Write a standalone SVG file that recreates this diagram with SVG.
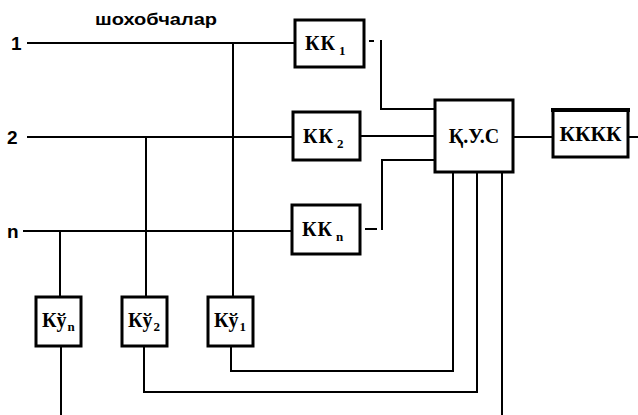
<svg xmlns="http://www.w3.org/2000/svg" width="638" height="415" viewBox="0 0 638 415">
<style>
.ln{fill:none;stroke:#000;stroke-width:2;stroke-linejoin:miter}
.bx{fill:#fff;stroke:#000;stroke-width:3}
.t{font-family:"Liberation Serif","DejaVu Serif",serif;font-size:20px;font-weight:bold;fill:#000}
.s{font-size:13px;font-weight:bold}
.lb{font-family:"Liberation Sans","DejaVu Sans",sans-serif;font-weight:bold;fill:#000}
</style>
<rect width="638" height="415" fill="#fff"/>
<g id="labels">
<text class="lb" x="95" y="25" font-size="16" textLength="122" lengthAdjust="spacingAndGlyphs">шохобчалар</text>
<text class="lb" x="11" y="50" font-size="19">1</text>
<text class="lb" x="7" y="144" font-size="19">2</text>
<text class="lb" x="7" y="238" font-size="19">n</text>
</g>
<g id="connectors">
<path class="ln" d="M27 43H295"/>
<path class="ln" d="M27 137H293"/>
<path class="ln" d="M23 231H292"/>
<path class="ln" d="M233 43V297"/>
<path class="ln" d="M146 137V297"/>
<path class="ln" d="M60 231V297"/>
<path class="ln" d="M369 41H374M381 40V109H435"/>
<path class="ln" d="M360 136H435"/>
<path class="ln" d="M365 229H377M382 230V160H435"/>
<path class="ln" d="M513 137H553"/>
<path class="ln" d="M628 137H638"/>
<path class="ln" d="M231 346V371H453V172"/>
<path class="ln" d="M144 346V392H477V172"/>
<path class="ln" d="M502 172V415"/>
<path class="ln" d="M61 346V415"/>
</g>
<g id="kk1">
<rect class="bx" x="295" y="20" width="69" height="47"/>
<text class="t" x="305" y="50" letter-spacing="1">КК<tspan class="s" dx="3" dy="5">1</tspan></text>
</g>
<g id="kk2">
<rect class="bx" x="293" y="112" width="67" height="48"/>
<text class="t" x="303" y="143" letter-spacing="1">КК<tspan class="s" dx="3" dy="5">2</tspan></text>
</g>
<g id="kkn">
<rect class="bx" x="292" y="205" width="68" height="49"/>
<text class="t" x="302" y="236" letter-spacing="1">КК<tspan class="s" dx="3" dy="5">n</tspan></text>
</g>
<g id="kus">
<rect class="bx" x="435" y="100" width="78" height="72"/>
<text class="t" x="474" y="143" text-anchor="middle" font-size="18">Қ.У.С</text>
</g>
<g id="kkkk">
<rect class="bx" x="553" y="110" width="75" height="47"/>
<path d="M551 110H630" stroke="#000" stroke-width="4"/>
<text class="t" x="590.5" y="141" text-anchor="middle" font-size="16" textLength="62" lengthAdjust="spacingAndGlyphs">КККК</text>
</g>
<g id="kyn">
<rect class="bx" x="36" y="297" width="45" height="49"/>
<text class="t" x="42" y="327">Кў<tspan class="s" dx="1" dy="4">n</tspan></text>
</g>
<g id="ky2">
<rect class="bx" x="122" y="297" width="45" height="49"/>
<text class="t" x="128" y="327">Кў<tspan class="s" dx="1" dy="4">2</tspan></text>
</g>
<g id="ky1">
<rect class="bx" x="208" y="297" width="45" height="49"/>
<text class="t" x="214" y="327">Кў<tspan class="s" dx="1" dy="4">1</tspan></text>
</g>
</svg>
